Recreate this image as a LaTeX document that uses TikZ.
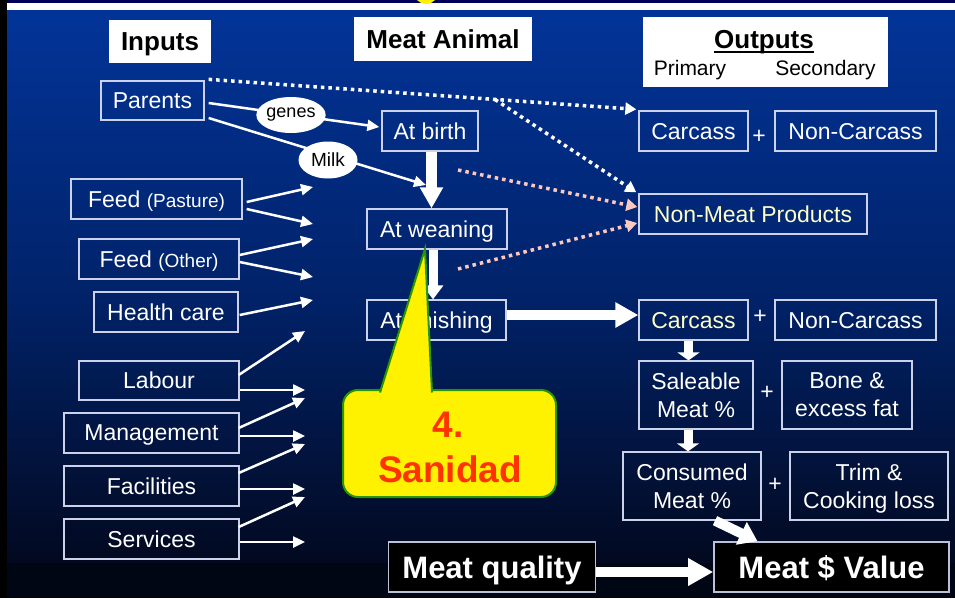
\documentclass[tikz,border=0pt]{standalone}
\usepackage{fontspec}
\setmainfont{Liberation Sans}
\usetikzlibrary{arrows.meta,shapes.geometric}
\definecolor{bgtop}{RGB}{2,52,152}
\definecolor{bgmid}{RGB}{1,34,104}
\definecolor{bgbot}{RGB}{2,9,32}
\definecolor{bgend}{RGB}{1,6,20}
\definecolor{topnavy}{RGB}{0,0,90}
\definecolor{boxline}{RGB}{205,210,235}
\definecolor{lightyel}{RGB}{255,255,200}
\definecolor{salmon}{RGB}{255,200,190}
\definecolor{calloutgreen}{RGB}{40,150,0}
\definecolor{calloutred}{RGB}{255,51,0}
\newcommand\myfs[2]{\fontsize{#1}{#2}\selectfont}
\begin{document}
\begin{tikzpicture}[x=1pt,y=-1pt,
  box/.style={draw=boxline, line width=1.3pt, text=white, inner sep=0pt, align=center, text depth=0pt, font=\myfs{23}{28}},
  titlebox/.style={fill=white, inner sep=0pt, text=black, text depth=0pt, font=\bfseries\myfs{26}{30}},
  bigbox/.style={draw=boxline!80!gray, fill=black, line width=1.6pt, text=white, inner sep=0pt, text depth=0pt, font=\bfseries\myfs{31}{36}},
  ell/.style={ellipse, fill=white, inner sep=0pt, text=black},
  plus/.style={text=white, inner sep=0pt, font=\myfs{23}{28}},
  thinarrow/.style={draw=white, line width=2.5pt, -{Triangle[length=12pt,width=11pt]}},
  dotarrow/.style={draw=white, line width=3.5pt, dash pattern=on 3.5pt off 4pt, -{Triangle[length=11pt,width=12pt]}},
  pinkarrow/.style={draw=salmon, line width=3.5pt, dash pattern=on 3.5pt off 4pt, -{Triangle[length=11pt,width=12pt]}},
  bigarrow/.style={draw=white, line width=#1},
]
\useasboundingbox (0,0) rectangle (955,598);
% background
\fill[black] (0,0) rectangle (955,598);
\fill[topnavy] (7,0) rectangle (955,3);
\fill[white] (7,3) rectangle (955,10);
\shade[top color=bgtop,bottom color=bgmid] (7,10) rectangle (955,300);
\shade[top color=bgmid,bottom color=bgbot] (7,299.5) rectangle (955,563);
\fill[bgend] (7,563) rectangle (955,598);
\fill[yellow] (426,-8) circle[radius=12];

% titles
\node[titlebox, minimum width=102pt, minimum height=43pt] (inputs) at (160,41.5) {Inputs};
\node[titlebox, minimum width=178pt, minimum height=44pt] (animal) at (443,39) {Meat Animal};
\node[fill=white, minimum width=245pt, minimum height=70pt, inner sep=0pt] (outputs) at (765.5,52) {};
\node[inner sep=0pt, anchor=base, text=black, font=\bfseries\myfs{26}{30}] (outtitle) at (764,48) {Outputs};
\draw[black, line width=2.5pt] ([yshift=-4pt]outtitle.base west) -- ([yshift=-4pt]outtitle.base east);
\node[inner sep=0pt, anchor=base, text=black, font=\myfs{21}{25}] (primary) at (690,75) {Primary};
\node[inner sep=0pt, anchor=base, text=black, font=\myfs{21}{25}] (secondary) at (825.5,75) {Secondary};

% input boxes
\node[box, minimum width=103pt, minimum height=39pt] (parents) at (152.5,100.5) {Parents};
\node[box, minimum width=171pt, minimum height=40pt] (feedp) at (156.5,199) {Feed {\myfs{19}{22}(Pasture)}};
\node[box, minimum width=160pt, minimum height=40pt] (feedo) at (159,259) {Feed {\myfs{19}{22}(Other)}};
\node[box, minimum width=144pt, minimum height=40pt] (health) at (166,312) {Health care};
\node[box, minimum width=160pt, minimum height=39pt] (labour) at (159,380.5) {Labour};
\node[box, minimum width=175pt, minimum height=40pt] (mgmt) at (151.5,433) {Management};
\node[box, minimum width=175pt, minimum height=40pt] (facil) at (151.5,486) {Facilities};
\node[box, minimum width=175pt, minimum height=40pt] (serv) at (151.5,539) {Services};

% animal stages
\node[box, minimum width=96pt, minimum height=40pt] (birth) at (430,131) {At birth};
\node[box, minimum width=140pt, minimum height=40pt] (weaning) at (437,229) {At weaning};
\node[box, minimum width=139pt, minimum height=40pt] (finishing) at (436.5,320) {At finishing};

% outputs
\node[box, minimum width=109pt, minimum height=40pt] (carcass1) at (693.5,131) {Carcass};
\node[plus] (plus1) at (759,137) {+};
\node[box, minimum width=161pt, minimum height=40pt] (noncarc1) at (855.5,131) {Non-Carcass};
\node[box, minimum width=228pt, minimum height=40pt, text=lightyel] (nonmeat) at (753,214) {Non-Meat Products};
\node[box, minimum width=109pt, minimum height=40pt, text=lightyel] (carcass2) at (693.5,320) {Carcass};
\node[plus] (plus2) at (760,317) {+};
\node[box, minimum width=161pt, minimum height=40pt] (noncarc2) at (855.5,320) {Non-Carcass};
\node[box, minimum width=114pt, minimum height=68pt] (saleable) at (696,395) {Saleable\\Meat \%};
\node[plus] (plus3) at (767,393) {+};
\node[box, minimum width=130pt, minimum height=68pt] (bone) at (847,395) {Bone \&\\excess fat};
\node[box, minimum width=138pt, minimum height=68pt] (consumed) at (692,486) {Consumed\\Meat \%};
\node[plus] (plus4) at (775,485) {+};
\node[box, minimum width=158pt, minimum height=68pt] (trim) at (869,486) {Trim \&\\Cooking loss};
\node[bigbox, minimum width=207pt, minimum height=50pt] (quality) at (492,567) {Meat quality};
\node[bigbox, minimum width=235pt, minimum height=50pt] (value) at (831.5,567) {Meat \$ Value};

% free arrow ends
\coordinate (milktip) at (426,185);
\coordinate (fp1) at (313,187);
\coordinate (fp2) at (313,224);
\coordinate (fo1) at (313,239);
\coordinate (fo2) at (313,277);
\coordinate (hc1) at (313,300);
\coordinate (lb1) at (305,331);
\coordinate (lb2) at (305,390);
\coordinate (mg1) at (305,398);
\coordinate (mg2) at (305,436);
\coordinate (fa1) at (305,444);
\coordinate (fa2) at (305,489);
\coordinate (sv1) at (305,497);
\coordinate (sv2) at (305,542);
\coordinate (branch) at (495,99.5);
\coordinate (pink1) at (458,170);
\coordinate (pink2) at (458,269);

% dotted arrows
\draw[dotarrow] ([xshift=4pt,yshift=1pt]parents.north east) -- ([xshift=-2pt,yshift=1pt]carcass1.north west);
\draw[dotarrow] (branch) -- ([xshift=-2pt,yshift=1pt]nonmeat.north west);
\draw[pinkarrow] (pink1) -- ([xshift=-1pt,yshift=7pt]nonmeat.west);
\draw[pinkarrow] (pink2) -- ([xshift=-1pt,yshift=-9pt]nonmeat.west);

% parents arrows
\draw[thinarrow] ([xshift=4pt,yshift=-2.5pt]parents.east) -- ([xshift=-2pt,yshift=4pt]birth.west);
\draw[thinarrow] ([xshift=4pt,yshift=-17.5pt]parents.east) -- (milktip);
\node[ell, minimum width=59pt, minimum height=36pt, font=\myfs{18}{20}] (genes) at (291,115) {genes};
\node[ell, minimum width=59pt, minimum height=37pt, font=\myfs{19}{22}] (milk) at (328,160) {Milk};

% input arrows
\draw[thinarrow] ([xshift=4pt,yshift=-3pt]feedp.east) -- (fp1);
\draw[thinarrow] ([xshift=4pt,yshift=-10pt]feedp.east) -- (fp2);
\draw[thinarrow] ([yshift=4pt]feedo.east) -- (fo1);
\draw[thinarrow] ([yshift=-3pt]feedo.east) -- (fo2);
\draw[thinarrow] ([xshift=1pt,yshift=-3pt]health.east) -- (hc1);
\draw[thinarrow] ([xshift=-1pt,yshift=5.5pt]labour.east) -- (lb1);
\draw[thinarrow] ([yshift=-9.5pt]labour.east) -- (lb2);
\draw[thinarrow] ([xshift=-1pt,yshift=5pt]mgmt.east) -- (mg1);
\draw[thinarrow] ([yshift=-3pt]mgmt.east) -- (mg2);
\draw[thinarrow] ([xshift=-1pt,yshift=13pt]facil.east) -- (fa1);
\draw[thinarrow] ([yshift=-3pt]facil.east) -- (fa2);
\draw[thinarrow] ([xshift=-1pt,yshift=12pt]serv.east) -- (sv1);
\draw[thinarrow] ([yshift=-3pt]serv.east) -- (sv2);

% thick arrows
\draw[bigarrow=11pt, -{Triangle[length=21pt,width=22pt]}] ([xshift=1.5pt]birth.south) -- ([xshift=1.5pt]birth.south |- weaning.north);
\draw[bigarrow=9pt, -{Triangle[length=14pt,width=20pt]}] ([xshift=-4pt]weaning.south) -- ([xshift=-4pt]weaning.south |- finishing.north);
\draw[bigarrow=10pt, -{Triangle[length=23pt,width=24pt]}] ([yshift=5pt]finishing.east) -- ([yshift=5pt]carcass2.west);
\draw[bigarrow=9pt, -{Triangle[length=8pt,width=22pt]}] ([xshift=-5pt]carcass2.south) -- ([xshift=-5pt]carcass2.south |- saleable.north);
\draw[bigarrow=9pt, -{Triangle[length=8pt,width=22pt]}] ([xshift=-8pt]saleable.south) -- ([xshift=-8pt]saleable.south |- consumed.north);
\draw[bigarrow=10pt, -{Triangle[length=18pt,width=24pt]}] ([xshift=23pt]consumed.south) -- ([xshift=-74pt]value.north);
\draw[bigarrow=10pt, -{Triangle[length=25pt,width=26pt]}] ([yshift=-5pt]quality.east) -- ([yshift=-5pt]value.west);

% callout
\filldraw[fill=yellow, draw=calloutgreen, line width=2pt, rounded corners=15pt] (343,390) rectangle (556,497);
\filldraw[fill=yellow, draw=calloutgreen, line width=2pt, line join=miter] (380,392.5) -- (425,249) -- (432,392.5);
\node[inner sep=0pt, anchor=base, text=calloutred, font=\bfseries\myfs{37}{42}] (four) at (448,437) {4.};
\node[inner sep=0pt, anchor=base, text=calloutred, font=\bfseries\myfs{37}{42}] (sanidad) at (450,482) {Sanidad};
\end{tikzpicture}
\end{document}
